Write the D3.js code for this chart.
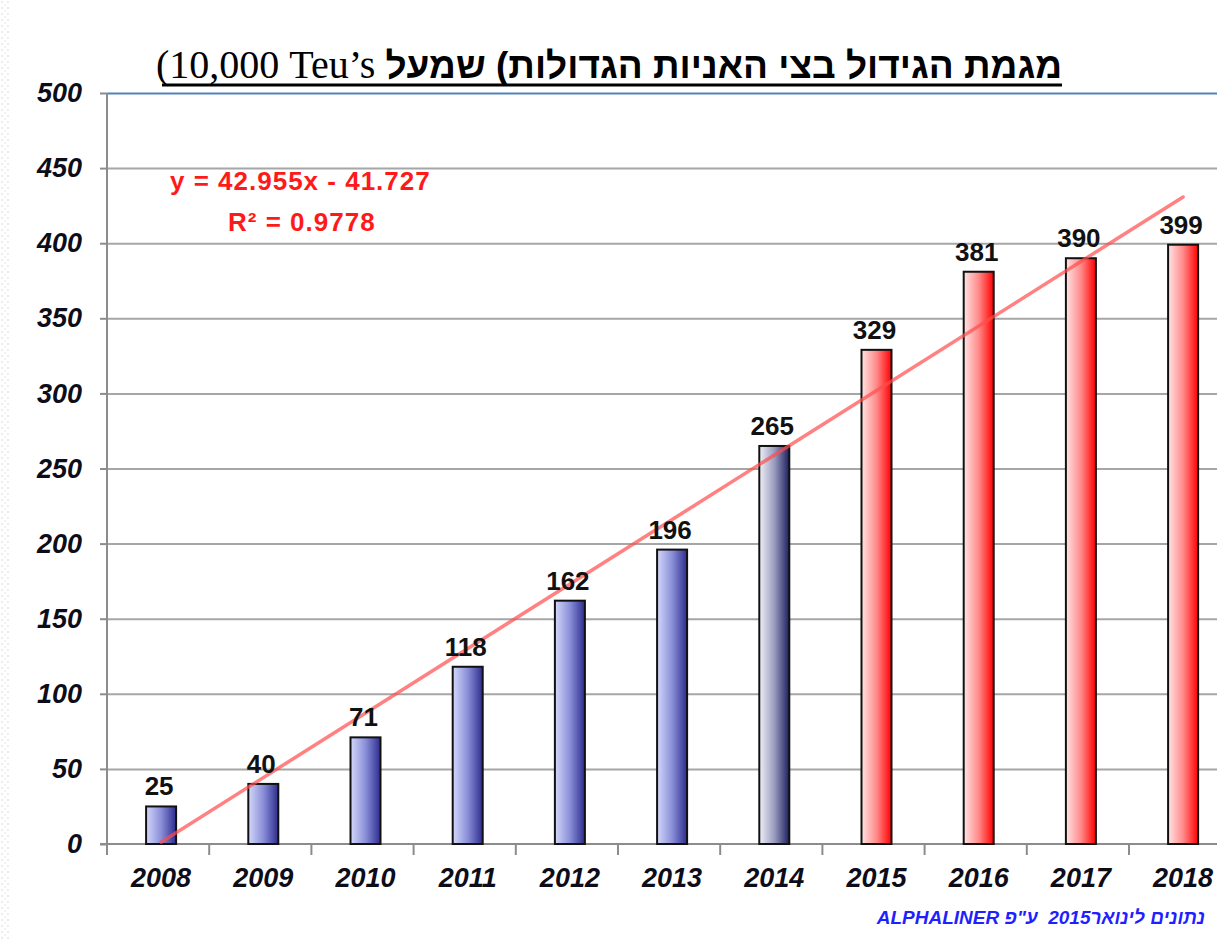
<!DOCTYPE html>
<html>
<head>
<meta charset="utf-8">
<script src="https://cdn.jsdelivr.net/npm/d3@7"></script>
<style>
  html, body { margin: 0; padding: 0; background: #fff; }
  svg { display: block; }
</style>
</head>
<body>
<div id="chart"></div>
<script>
/* Growth of the large-ship fleet (over 10,000 TEU), with a linear trend. */

var years = ["2008", "2009", "2010", "2011", "2012", "2013", "2014", "2015", "2016", "2017", "2018"];
var ships = [25, 40, 71, 118, 162, 196, 265, 329, 381, 390, 399];
var stage = ["past", "past", "past", "past", "past", "past", "current", "forecast", "forecast", "forecast", "forecast"];
var yTicks = [0, 50, 100, 150, 200, 250, 300, 350, 400, 450, 500];
var trendSlope = 42.955;
var trendIntercept = -41.727;
var trendR2 = 0.9778;

var titleHe = "מגמת הגידול בצי האניות הגדולות) שמעל";
var titleLatin = " \u206610,000 Teu\u2019s\u2069)";
var sourceText = "נתונים לינואר2015  ע\"פ ALPHALINER";

var width = 1217, height = 940;
var plotLeft = 107, plotBottom = 844, plotTop = 93;
var bandW = 102.2;

var svg = d3.select("#chart").append("svg")
  .attr("width", width).attr("height", height)
  .attr("viewBox", "0 0 " + width + " " + height);

svg.append("rect").attr("width", width).attr("height", height).attr("fill", "#fff");

var defs = svg.append("defs");

/* faint dotted strip on the left edge */
var pat = defs.append("pattern").attr("id", "edge-dots")
  .attr("width", 6).attr("height", 6).attr("patternUnits", "userSpaceOnUse");
pat.append("circle").attr("cx", 2).attr("cy", 2).attr("r", 1).attr("fill", "#e6e6e6");
pat.append("circle").attr("cx", 5).attr("cy", 5).attr("r", 1).attr("fill", "#ececec");
svg.append("rect").attr("x", 0).attr("y", 0).attr("width", 10).attr("height", height)
  .attr("fill", "url(#edge-dots)");

/* Gradients */
var grads = {
  past: ["#d4d8fa", "#8a8fd8", "#2c2c8e"],
  current: ["#f0f0f6", "#9a9cc0", "#1c1f5e"],
  forecast: ["#ffe4e4", "#ff8a8a", "#ff0000"]
};
Object.keys(grads).forEach(function (k) {
  var lg = defs.append("linearGradient").attr("id", "g-" + k)
    .attr("x1", "0").attr("x2", "1").attr("y1", "0").attr("y2", "0");
  lg.append("stop").attr("offset", "0").attr("stop-color", grads[k][0]);
  lg.append("stop").attr("offset", "0.5").attr("stop-color", grads[k][1]);
  lg.append("stop").attr("offset", "1").attr("stop-color", grads[k][2]);
});

var x = d3.scaleBand().domain(years).range([plotLeft, plotLeft + bandW * years.length]).padding(0);
var y = d3.scaleLinear().domain([0, 500]).range([plotBottom, plotTop]);
var shift = 3;
var xi = d3.scaleLinear().domain([1, years.length])
  .range([x(years[0]) + x.bandwidth() / 2 + shift, x(years[years.length - 1]) + x.bandwidth() / 2 + shift]);

/* Gridlines */
var grid = svg.append("g").attr("transform", "translate(" + plotLeft + ",0)")
  .call(d3.axisRight(y).tickValues(yTicks).tickSize(width - plotLeft).tickFormat(""));
grid.select(".domain").remove();
grid.selectAll(".tick line")
  .attr("stroke", function (d) { return d === 500 ? "#4f81bd" : "#a6a6a6"; })
  .attr("stroke-width", 2)
  .attr("opacity", function (d) { return d === 0 ? 0 : 1; });

/* Y axis */
var yAxis = svg.append("g").attr("transform", "translate(" + plotLeft + ",0)")
  .call(d3.axisLeft(y).tickValues(yTicks).tickSize(7).tickPadding(18));
yAxis.select(".domain").remove();
yAxis.selectAll(".tick line").attr("stroke", "#8c8c8c").attr("stroke-width", 2);
yAxis.selectAll(".tick text")
  .attr("fill", "#0d0d1a")
  .style("font", "italic bold 27px 'Liberation Sans', Arial, sans-serif");
svg.append("line").attr("x1", plotLeft).attr("x2", plotLeft).attr("y1", plotTop).attr("y2", plotBottom + 11)
  .attr("stroke", "#8c8c8c").attr("stroke-width", 2);

/* X axis */
svg.append("line").attr("x1", plotLeft - 7).attr("x2", width).attr("y1", plotBottom).attr("y2", plotBottom)
  .attr("stroke", "#8c8c8c").attr("stroke-width", 2);
svg.append("g").selectAll("line").data(years.slice(1)).enter().append("line")
  .attr("x1", function (d) { return x(d); }).attr("x2", function (d) { return x(d); })
  .attr("y1", plotBottom).attr("y2", plotBottom + 11)
  .attr("stroke", "#8c8c8c").attr("stroke-width", 2);
var xAxis = svg.append("g").attr("transform", "translate(" + shift + "," + plotBottom + ")")
  .call(d3.axisBottom(x).tickSize(0).tickPadding(24));
xAxis.select(".domain").remove();
xAxis.selectAll(".tick text")
  .attr("fill", "#0d0d1a")
  .style("font", "italic bold 27px 'Liberation Sans', Arial, sans-serif");

/* Bars */
var barW = 30;
svg.append("g").selectAll("rect").data(years).enter().append("rect")
  .attr("x", function (d) { return x(d) + x.bandwidth() / 2 + shift - barW / 2; })
  .attr("y", function (d, i) { return y(ships[i]); })
  .attr("width", barW)
  .attr("height", function (d, i) { return plotBottom - y(ships[i]); })
  .attr("fill", function (d, i) { return "url(#g-" + stage[i] + ")"; })
  .attr("stroke", "#111").attr("stroke-width", 2);

/* Trend line */
svg.append("line")
  .attr("x1", xi(1)).attr("y1", y(trendSlope * 1 + trendIntercept))
  .attr("x2", xi(years.length)).attr("y2", y(trendSlope * years.length + trendIntercept))
  .attr("stroke", "#ff4d4d").attr("stroke-width", 3.5).attr("opacity", 0.7)
  .attr("stroke-linecap", "round");

/* Value labels */
svg.append("g").selectAll("text").data(years).enter().append("text")
  .attr("x", function (d) { return x(d) + x.bandwidth() / 2 + 1; })
  .attr("y", function (d, i) { return y(ships[i]) - 11; })
  .attr("text-anchor", "middle")
  .attr("fill", "#111")
  .style("font", "bold 26px 'Liberation Sans', Arial, sans-serif")
  .text(function (d, i) { return ships[i]; });

/* Trend equation */
var eq = svg.append("g").attr("fill", "#ff1a1a")
  .style("font", "bold 26px 'Liberation Sans', Arial, sans-serif").style("letter-spacing", "1px");
eq.append("text").attr("x", 170).attr("y", 190)
  .text("y = " + trendSlope + "x - " + Math.abs(trendIntercept));
eq.append("text").attr("x", 228).attr("y", 231)
  .text("R\u00b2 = " + trendR2);

/* Title */
var title = svg.append("text")
  .attr("x", 1062).attr("y", 78)
  .attr("direction", "rtl").attr("text-anchor", "start")
  .attr("fill", "#000")
  .style("white-space", "pre");
title.append("tspan")
  .style("font", "bold 37px 'Liberation Sans', Arial, sans-serif")
  .text(titleHe);
title.append("tspan")
  .style("font", "40px 'Liberation Serif', 'Times New Roman', serif")
  .text(titleLatin);
var tb = title.node().getBBox();
svg.append("line").attr("x1", tb.x + 6).attr("x2", tb.x + tb.width)
  .attr("y1", 85).attr("y2", 85).attr("stroke", "#000").attr("stroke-width", 3);

/* Source */
svg.append("text")
  .attr("x", 1205).attr("y", 924)
  .attr("direction", "rtl").attr("text-anchor", "start")
  .attr("fill", "#1f1fff")
  .style("white-space", "pre")
  .style("font", "italic bold 19px 'Liberation Sans', Arial, sans-serif")
  .text(sourceText);
</script>
</body>
</html>
